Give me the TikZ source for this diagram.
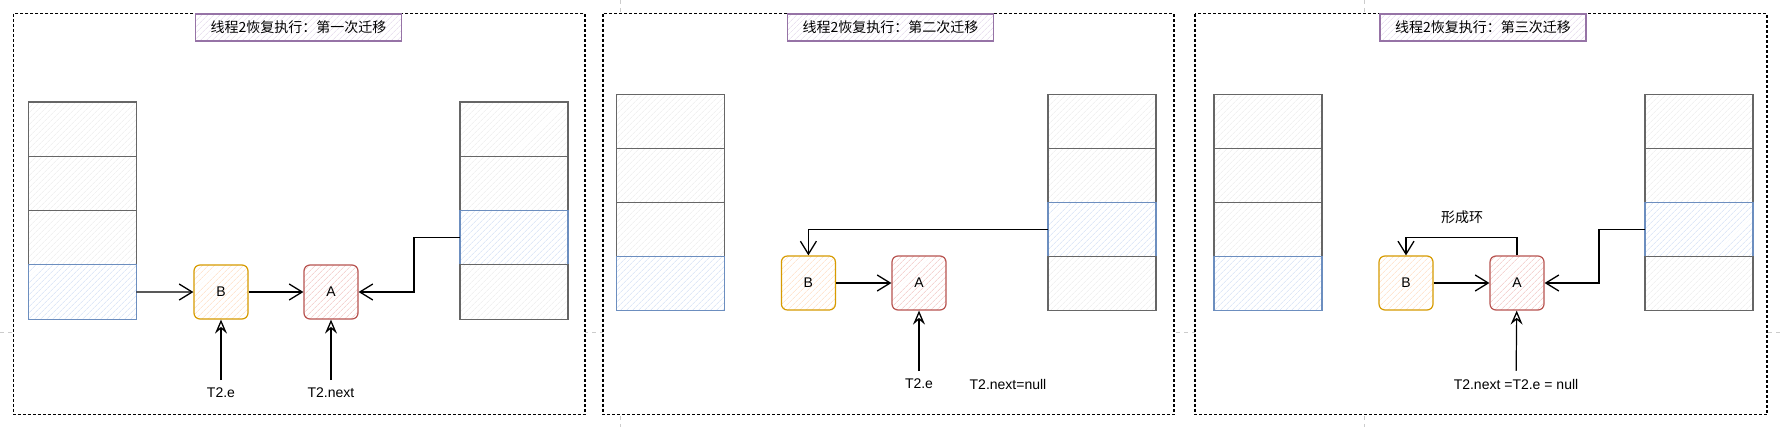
\documentclass[tikz,border=0pt]{standalone}
\usepackage{fontspec}
\setmainfont{Liberation Sans}
\newfontfamily\cjk{Noto Sans CJK SC}
\usetikzlibrary{arrows.meta,patterns.meta}

\definecolor{cellline}{HTML}{666666}
\definecolor{cellhatch}{HTML}{EBEBEB}
\definecolor{blueline}{HTML}{6C8EBF}
\definecolor{bluehatch}{HTML}{CEDDF5}
\definecolor{orangeline}{HTML}{D79B00}
\definecolor{orangehatch}{HTML}{FFD9BA}
\definecolor{redline}{HTML}{B85450}
\definecolor{redhatch}{HTML}{F0BDBB}
\definecolor{purpline}{HTML}{9673A6}
\definecolor{purphatch}{HTML}{E0D3E8}
\definecolor{pageline}{HTML}{CCCCCC}

\begin{document}
\begin{tikzpicture}[x=1pt,y=1pt,font=\fontsize{14}{16}\selectfont,
    hatch/.style={pattern={Lines[angle=45,distance=4pt,line width=.5pt]},pattern color=#1},
    cell/.style={draw=cellline,line width=1.1pt,hatch=cellhatch,
      minimum width=108pt,minimum height=54.3pt,inner sep=0pt,outer sep=0pt},
    bluecell/.style={cell,draw=blueline,hatch=bluehatch},
    entry/.style={rounded corners=6pt,line width=1.2pt,minimum width=54pt,
      minimum height=54pt,inner sep=0pt},
    nodeb/.style={entry,draw=orangeline,hatch=orangehatch},
    nodea/.style={entry,draw=redline,hatch=redhatch},
    titlebox/.style={draw=purpline,line width=1.1pt,preaction={fill=white},
      hatch=purphatch,minimum width=206pt,minimum height=27pt,inner sep=0pt},
    txt/.style={inner sep=2pt,outer ysep=6pt},
    panel/.style={draw,fill=white,line width=1.2pt,dash pattern=on 3pt off 2pt},
    link/.style={draw,line width=1.2pt,-{Straight Barb[length=13pt,width=16pt,line width=1.3pt]}},
    ptr/.style={draw,line width=1.2pt,-{Stealth[open,length=14pt,width=12pt,inset=5pt,line width=1.3pt]}}]

  \useasboundingbox (0,0) rectangle (1781,-427);

  % page break guides
  \draw[pageline,line width=.6pt,dash pattern=on 4pt off 4pt]
    (620,0) -- (620,-427) (1364,0) -- (1364,-427) (0,-332) -- (1781,-332);

  % frames
  \draw[panel] (13.6,-13.6) rectangle (585,-414.6);
  \draw[panel] (603,-13.6) rectangle (1174,-414.6);
  \draw[panel] (1195,-13.6) rectangle (1767,-414.6);

  % first move
  \node[titlebox] (h1) at (298.5,-27.5) {\cjk 线程2恢复执行：第一次迁移};
  \node[cell]     (l11) at (82.4,-129.2) {};
  \node[cell]     (l12) at (82.4,-183.5) {};
  \node[cell]     (l13) at (82.4,-237.8) {};
  \node[bluecell] (l14) at (82.4,-292.1) {};
  \node[cell]     (r11) at (514,-129.2) {};
  \node[cell]     (r12) at (514,-183.5) {};
  \node[bluecell] (r13) at (514,-237.8) {};
  \node[cell]     (r14) at (514,-292.1) {};
  \node[nodeb] (b1) at (221,-292) {B};
  \node[nodea] (a1) at (331,-292) {A};
  \node[txt] (t1e) at (221,-393) {T2.e};
  \node[txt] (t1n) at (331,-393) {T2.next};

  \begin{scope}[every edge/.style={link}]
    \path (l14) edge (b1);
    \path (b1)  edge (a1);
    \path (r13.west) edge[to path={-- ++(-46,0) |- (\tikztotarget)}] (a1.east);
  \end{scope}
  \begin{scope}[every edge/.style={ptr}]
    \path (t1e) edge (b1);
    \path (t1n) edge (a1);
  \end{scope}

  % second move
  \node[titlebox] (h2) at (890.5,-27.5) {\cjk 线程2恢复执行：第二次迁移};
  \node[cell]     (l21) at (670.6,-121.3) {};
  \node[cell]     (l22) at (670.6,-175.3) {};
  \node[cell]     (l23) at (670.6,-229.3) {};
  \node[bluecell] (l24) at (670.6,-283.3) {};
  \node[cell]     (r21) at (1102,-121.3) {};
  \node[cell]     (r22) at (1102,-175.3) {};
  \node[bluecell] (r23) at (1102,-229.3) {};
  \node[cell]     (r24) at (1102,-283.3) {};
  \node[nodeb] (b2) at (808.4,-283) {B};
  \node[nodea] (a2) at (919,-283) {A};
  \node[txt] (t2e) at (919,-384) {T2.e};
  \node[txt] (t2n) at (1008,-384) {T2.next=null};

  \begin{scope}[every edge/.style={link}]
    \path (r23.west) edge[to path={-| (\tikztotarget)}] (b2.north);
    \path (b2) edge (a2);
  \end{scope}
  \path[ptr] (t2e) edge (a2);

  % third move
  \node[titlebox] (h3) at (1483,-27.5) {\cjk 线程2恢复执行：第三次迁移};
  \node[cell]     (l31) at (1268,-121.3) {};
  \node[cell]     (l32) at (1268,-175.3) {};
  \node[cell]     (l33) at (1268,-229.3) {};
  \node[bluecell] (l34) at (1268,-283.3) {};
  \node[cell]     (r31) at (1699,-121.3) {};
  \node[cell]     (r32) at (1699,-175.3) {};
  \node[bluecell] (r33) at (1699,-229.3) {};
  \node[cell]     (r34) at (1699,-283.3) {};
  \node[nodeb] (b3) at (1406,-283) {B};
  \node[nodea] (a3) at (1517,-283) {A};
  \node (ring) at (1462,-217) {\cjk 形成环};
  \node[txt] (t3) at (1516,-384) {T2.next =T2.e = null};

  \begin{scope}[every edge/.style={link}]
    \path (b3) edge (a3);
    \path (a3.north) edge[to path={-- ++(0,18) -| (\tikztotarget)}] (b3.north);
    \path (r33.west) edge[to path={-- ++(-46,0) |- (\tikztotarget)}] (a3.east);
  \end{scope}
  \path[ptr] (t3) edge (a3);

\end{tikzpicture}
\end{document}
